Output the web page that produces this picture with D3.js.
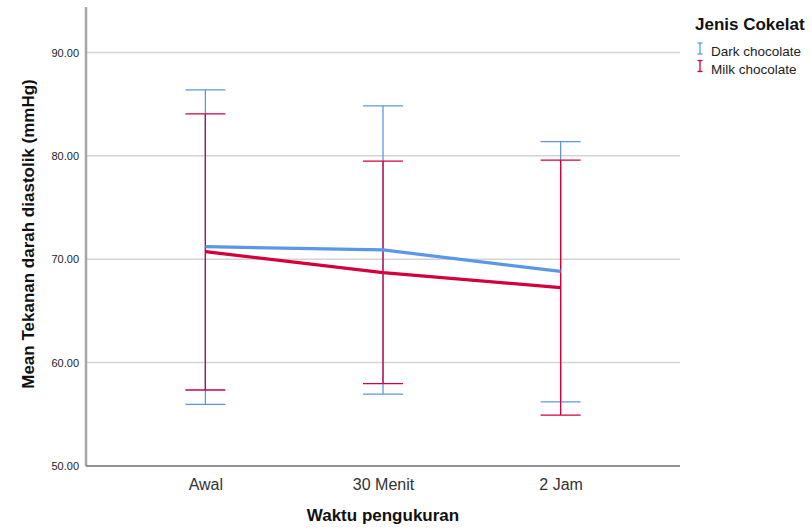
<!DOCTYPE html>
<html><head><meta charset="utf-8">
<script src="https://cdn.jsdelivr.net/npm/d3@7"></script>
<style>body{margin:0;background:#fff;} svg{display:block;font-family:"Liberation Sans",Arial,sans-serif;}</style>
</head><body>
<svg id="chart" width="812" height="531"></svg>
<script>
const categories = ["Awal", "30 Menit", "2 Jam"];
const seriesNames = ["Dark chocolate", "Milk chocolate"];
const darkMean = [71.22, 70.90, 68.82];
const darkLow = [55.96, 56.96, 56.20];
const darkHigh = [86.39, 84.84, 81.38];
const milkMean = [70.73, 68.70, 67.25];
const milkLow = [57.35, 57.96, 54.93];
const milkHigh = [84.07, 79.49, 79.58];
const yTicks = [50, 60, 70, 80, 90];
const colors = ["#5a98e6", "#d3003c"];

const series = [
  {name: seriesNames[0], mean: darkMean, low: darkLow, high: darkHigh, color: colors[0]},
  {name: seriesNames[1], mean: milkMean, low: milkLow, high: milkHigh, color: colors[1]}
];

const svg = d3.select("#chart");
const pLeft = 86, pRight = 680, pTop = 7, pBottom = 466;
const x = d3.scalePoint().domain(categories).range([pLeft, pRight]).padding(0.672);
const y = d3.scaleLinear().domain([50, 94.4]).range([pBottom, pTop]);

// gridlines
svg.append("g").selectAll("line").data(yTicks.filter(d => d > 50)).join("line")
  .attr("x1", pLeft).attr("x2", pRight)
  .attr("y1", d => y(d)).attr("y2", d => y(d))
  .attr("stroke", "#d4d4d4").attr("stroke-width", 1.5);

// y axis
const yAxis = svg.append("g").attr("transform", `translate(${pLeft},0)`)
  .call(d3.axisLeft(y).tickValues(yTicks).tickFormat(d3.format(".2f")).tickSize(0).tickPadding(7));
yAxis.select(".domain").remove();
yAxis.selectAll("text").attr("font-size", 11).attr("fill", "#222").attr("font-family", "Liberation Sans, Arial, sans-serif");
svg.append("line").attr("x1", pLeft).attr("x2", pLeft).attr("y1", pTop).attr("y2", pBottom)
  .attr("stroke", "#a6a6a6").attr("stroke-width", 2.5);

// x axis
const xAxis = svg.append("g").attr("transform", `translate(0,${pBottom})`)
  .call(d3.axisBottom(x).tickSize(0).tickPadding(13));
xAxis.select(".domain").remove();
xAxis.selectAll("text").attr("font-size", 16).attr("fill", "#333").attr("font-family", "Liberation Sans, Arial, sans-serif");
svg.append("line").attr("x1", pLeft).attr("x2", pRight).attr("y1", pBottom).attr("y2", pBottom)
  .attr("stroke", "#6e6e6e").attr("stroke-width", 1.5);

// error bars
series.forEach(s => {
  const g = svg.append("g").attr("stroke", s.color).attr("stroke-width", 1.3).attr("fill", "none");
  categories.forEach((c, i) => {
    const cx = x(c);
    g.append("line").attr("x1", cx).attr("x2", cx).attr("y1", y(s.low[i])).attr("y2", y(s.high[i]));
    g.append("line").attr("x1", cx - 20).attr("x2", cx + 20).attr("y1", y(s.low[i])).attr("y2", y(s.low[i]));
    g.append("line").attr("x1", cx - 20).attr("x2", cx + 20).attr("y1", y(s.high[i])).attr("y2", y(s.high[i]));
  });
});

// mean lines
const line = d3.line().x((d, i) => x(categories[i])).y(d => y(d));
series.forEach(s => {
  svg.append("path").datum(s.mean).attr("d", line)
    .attr("fill", "none").attr("stroke", s.color).attr("stroke-width", 3.2);
});

// axis titles
svg.append("text").attr("x", 383).attr("y", 521).attr("text-anchor", "middle")
  .attr("font-size", 17).attr("font-weight", "bold").attr("fill", "#111").text("Waktu pengukuran");
svg.append("text").attr("transform", "translate(34,234) rotate(-90)").attr("text-anchor", "middle")
  .attr("font-size", 17).attr("font-weight", "bold").attr("fill", "#111").text("Mean Tekanan darah diastolik (mmHg)");

// legend
svg.append("text").attr("x", 695).attr("y", 30).attr("font-size", 17).attr("font-weight", "bold")
  .attr("fill", "#111").text("Jenis Cokelat");
series.forEach((s, i) => {
  const ly = 51 + i * 17.5;
  const g = svg.append("g").attr("stroke", s.color).attr("stroke-width", 1.3);
  g.append("line").attr("x1", 700).attr("x2", 700).attr("y1", ly - 8).attr("y2", ly + 3);
  g.append("line").attr("x1", 697.5).attr("x2", 702.5).attr("y1", ly - 8).attr("y2", ly - 8);
  g.append("line").attr("x1", 697.5).attr("x2", 702.5).attr("y1", ly + 3).attr("y2", ly + 3);
  svg.append("text").attr("x", 711).attr("y", ly + 5).attr("font-size", 13.5).attr("fill", "#222").text(s.name);
});
</script>
</body></html>
